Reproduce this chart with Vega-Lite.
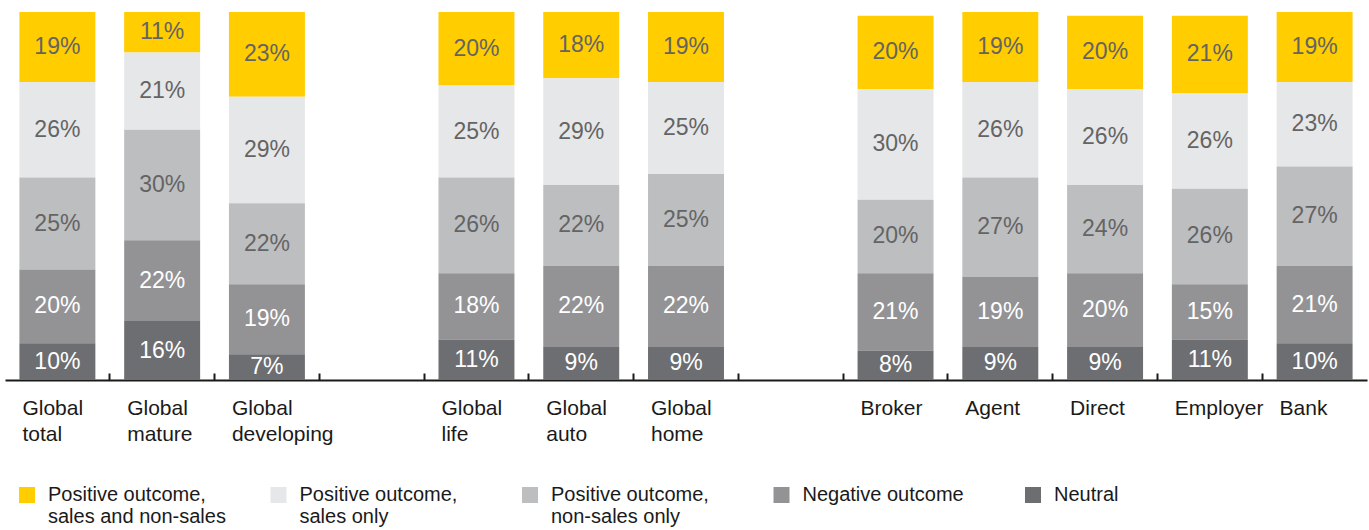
{
  "$schema": "https://vega.github.io/schema/vega-lite/v6.json",
  "width": 1362,
  "height": 368,
  "autosize": {"type": "none"},
  "padding": {"left": 5, "top": 12, "right": 2, "bottom": 150},
  "config": {"view": {"stroke": null}, "font": "Liberation Sans"},
  "data": {
    "values": [
      {"c": "Global total", "s": "Positive outcome, sales and non-sales", "v": 0.19},
      {"c": "Global total", "s": "Positive outcome, sales only", "v": 0.26},
      {"c": "Global total", "s": "Positive outcome, non-sales only", "v": 0.25},
      {"c": "Global total", "s": "Negative outcome", "v": 0.20},
      {"c": "Global total", "s": "Neutral", "v": 0.10},
      {"c": "Global mature", "s": "Positive outcome, sales and non-sales", "v": 0.11},
      {"c": "Global mature", "s": "Positive outcome, sales only", "v": 0.21},
      {"c": "Global mature", "s": "Positive outcome, non-sales only", "v": 0.30},
      {"c": "Global mature", "s": "Negative outcome", "v": 0.22},
      {"c": "Global mature", "s": "Neutral", "v": 0.16},
      {"c": "Global developing", "s": "Positive outcome, sales and non-sales", "v": 0.23},
      {"c": "Global developing", "s": "Positive outcome, sales only", "v": 0.29},
      {"c": "Global developing", "s": "Positive outcome, non-sales only", "v": 0.22},
      {"c": "Global developing", "s": "Negative outcome", "v": 0.19},
      {"c": "Global developing", "s": "Neutral", "v": 0.07},
      {"c": "Global life", "s": "Positive outcome, sales and non-sales", "v": 0.20},
      {"c": "Global life", "s": "Positive outcome, sales only", "v": 0.25},
      {"c": "Global life", "s": "Positive outcome, non-sales only", "v": 0.26},
      {"c": "Global life", "s": "Negative outcome", "v": 0.18},
      {"c": "Global life", "s": "Neutral", "v": 0.11},
      {"c": "Global auto", "s": "Positive outcome, sales and non-sales", "v": 0.18},
      {"c": "Global auto", "s": "Positive outcome, sales only", "v": 0.29},
      {"c": "Global auto", "s": "Positive outcome, non-sales only", "v": 0.22},
      {"c": "Global auto", "s": "Negative outcome", "v": 0.22},
      {"c": "Global auto", "s": "Neutral", "v": 0.09},
      {"c": "Global home", "s": "Positive outcome, sales and non-sales", "v": 0.19},
      {"c": "Global home", "s": "Positive outcome, sales only", "v": 0.25},
      {"c": "Global home", "s": "Positive outcome, non-sales only", "v": 0.25},
      {"c": "Global home", "s": "Negative outcome", "v": 0.22},
      {"c": "Global home", "s": "Neutral", "v": 0.09},
      {"c": "Broker", "s": "Positive outcome, sales and non-sales", "v": 0.20},
      {"c": "Broker", "s": "Positive outcome, sales only", "v": 0.30},
      {"c": "Broker", "s": "Positive outcome, non-sales only", "v": 0.20},
      {"c": "Broker", "s": "Negative outcome", "v": 0.21},
      {"c": "Broker", "s": "Neutral", "v": 0.08},
      {"c": "Agent", "s": "Positive outcome, sales and non-sales", "v": 0.19},
      {"c": "Agent", "s": "Positive outcome, sales only", "v": 0.26},
      {"c": "Agent", "s": "Positive outcome, non-sales only", "v": 0.27},
      {"c": "Agent", "s": "Negative outcome", "v": 0.19},
      {"c": "Agent", "s": "Neutral", "v": 0.09},
      {"c": "Direct", "s": "Positive outcome, sales and non-sales", "v": 0.20},
      {"c": "Direct", "s": "Positive outcome, sales only", "v": 0.26},
      {"c": "Direct", "s": "Positive outcome, non-sales only", "v": 0.24},
      {"c": "Direct", "s": "Negative outcome", "v": 0.20},
      {"c": "Direct", "s": "Neutral", "v": 0.09},
      {"c": "Employer", "s": "Positive outcome, sales and non-sales", "v": 0.21},
      {"c": "Employer", "s": "Positive outcome, sales only", "v": 0.26},
      {"c": "Employer", "s": "Positive outcome, non-sales only", "v": 0.26},
      {"c": "Employer", "s": "Negative outcome", "v": 0.15},
      {"c": "Employer", "s": "Neutral", "v": 0.11},
      {"c": "Bank", "s": "Positive outcome, sales and non-sales", "v": 0.19},
      {"c": "Bank", "s": "Positive outcome, sales only", "v": 0.23},
      {"c": "Bank", "s": "Positive outcome, non-sales only", "v": 0.27},
      {"c": "Bank", "s": "Negative outcome", "v": 0.21},
      {"c": "Bank", "s": "Neutral", "v": 0.10}
    ]
  },
  "transform": [
    {"window": [{"op": "row_number", "as": "k"}], "groupby": ["c"]}
  ],
  "layer": [
    {
      "mark": {"type": "bar"},
      "encoding": {
        "x": {
          "field": "c",
          "type": "nominal",
          "scale": {
            "domain": ["Global total", "Global mature", "Global developing", "gap1", "Global life", "Global auto", "Global home", "gap2", "Broker", "Agent", "Direct", "Employer", "Bank"],
            "paddingInner": 0.275,
            "paddingOuter": 0.1375
          },
          "axis": {
            "orient": "bottom",
            "values": ["Global total", "Global mature", "Global developing", "gap1", "Global life", "Global auto", "Global home", "gap2", "Broker", "Agent", "Direct", "Employer"],
            "bandPosition": 1.19,
            "labels": false,
            "ticks": true,
            "tickSize": -7,
            "tickWidth": 2,
            "tickColor": "#1a1a1a",
            "domain": true,
            "domainColor": "#1a1a1a",
            "domainWidth": 2,
            "title": null,
            "grid": false
          }
        },
        "y": {"field": "v", "type": "quantitative", "stack": "zero", "scale": {"domain": [0, 1]}, "axis": null},
        "order": {"field": "k", "type": "quantitative", "sort": "descending"},
        "color": {
          "field": "s",
          "type": "nominal",
          "sort": ["Positive outcome, sales and non-sales", "Positive outcome, sales only", "Positive outcome, non-sales only", "Negative outcome", "Neutral"],
          "scale": {"range": ["#FFCD00", "#E6E7E8", "#BDBEC0", "#939396", "#6D6E71"]},
          "legend": {
            "orient": "none",
            "legendX": 12,
            "legendY": 473,
            "direction": "horizontal",
            "columns": 5,
            "gridAlign": "all",
            "columnPadding": 42.5,
            "symbolType": "square",
            "symbolSize": 256,
            "symbolStrokeWidth": 0,
            "symbolOpacity": 1,
            "labelOffset": 11,
            "labelFontSize": 20,
            "labelLineHeight": 24,
            "labelColor": "#1a1a1a",
            "labelLimit": 300,
            "labelBaseline": "middle",
            "labelExpr": "indexof(datum.label, ', ') > 0 ? [slice(datum.label, 0, indexof(datum.label, ', ') + 1), slice(datum.label, indexof(datum.label, ', ') + 2)] : [datum.label, '']",
            "title": null
          }
        }
      }
    },
    {
      "mark": {"type": "text", "fontSize": 23, "font": "Liberation Sans"},
      "encoding": {
        "x": {
          "field": "c",
          "type": "nominal",
          "axis": {
            "orient": "bottom",
            "domain": false,
            "ticks": false,
            "labelExpr": "indexof(datum.label, 'gap') == 0 ? '' : split(datum.label, ' ')",
            "labelAngle": 0,
            "labelAlign": "left",
            "labelOffset": -35,
            "labelBaseline": "top",
            "labelPadding": 17,
            "labelFontSize": 21,
            "labelLineHeight": 26,
            "labelColor": "#1a1a1a",
            "labelOverlap": false,
            "labelBound": false,
            "title": null,
            "grid": false
          }
        },
        "y": {"field": "v", "type": "quantitative", "stack": "zero", "bandPosition": 0.5},
        "order": {"field": "k", "type": "quantitative", "sort": "descending"},
        "color": {
          "field": "s",
          "type": "nominal",
          "sort": ["Positive outcome, sales and non-sales", "Positive outcome, sales only", "Positive outcome, non-sales only", "Negative outcome", "Neutral"],
          "scale": {"range": ["#646464", "#646464", "#646464", "#ffffff", "#ffffff"]},
          "legend": null
        },
        "text": {"field": "v", "type": "quantitative", "format": ".0%"}
      }
    }
  ],
  "resolve": {"axis": {"x": "independent"}, "scale": {"color": "independent"}}
}
